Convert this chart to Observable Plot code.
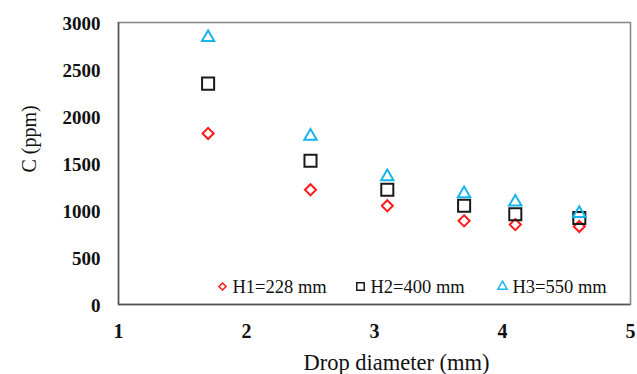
<!DOCTYPE html>
<html>
<head>
<meta charset="utf-8">
<script src="https://cdn.jsdelivr.net/npm/d3@7"></script>
<script src="https://cdn.jsdelivr.net/npm/@observablehq/plot@0.6"></script>
<style>
  html, body { margin: 0; padding: 0; background: #fff; }
  #chart svg { display: block; }
</style>
</head>
<body>
<div id="chart"></div>
<script>
const diameters = [1.7, 2.5, 3.1, 3.7, 4.1, 4.6];
const h1Values = [1820, 1220, 1050, 890, 850, 830];
const h2Values = [2350, 1530, 1220, 1050, 960, 920];
const h3Values = [2840, 1790, 1360, 1180, 1090, 970];
const seriesNames = ["H1=228 mm", "H2=400 mm", "H3=550 mm"];
const xTicks = [1, 2, 3, 4, 5];
const yTicks = [0, 500, 1000, 1500, 2000, 2500, 3000];
const xTitle = "Drop diameter (mm)";
const yTitle = "C (ppm)";

const seriesStyle = [
  {symbol: "diamond2", stroke: "#ff1a1a", r: 5, lr: 3.2, dx: 104, tdx: 114},
  {symbol: "square", stroke: "#1a1a1a", r: 6.8, lr: 4.2, dx: 242, tdx: 252},
  {symbol: "triangle", stroke: "#18b4ee", r: 4.6, lr: 3.4, dx: 384, tdx: 394}
];
const allValues = [h1Values, h2Values, h3Values];
const data = allValues.flatMap((vals, i) =>
  vals.map((v, j) => ({x: diameters[j], y: v, series: i}))
);

const marks = [
  Plot.frame({stroke: "#8a8a8a", strokeWidth: 1.6}),
  Plot.ruleX([1], {stroke: "#555", strokeWidth: 1.5}),
  Plot.ruleY([0], {stroke: "#555", strokeWidth: 1.5}),
  Plot.axisX({ticks: xTicks, tickFormat: d => String(d), tickSize: 0, tickPadding: 19, fontSize: 20, fontWeight: "bold", fill: "#111", label: null}),
  Plot.axisY({ticks: yTicks, tickFormat: d => String(d), tickSize: 0, tickPadding: 18, fontSize: 19, fontWeight: "bold", fill: "#111", dy: 1.5, label: null}),
  Plot.text([xTitle], {frameAnchor: "bottom", text: d => d, dx: 22, dy: 58, fontSize: 22.5, fill: "#111", lineAnchor: "middle"}),
  Plot.text([yTitle], {frameAnchor: "left", text: d => d, dx: -89, dy: 9, rotate: -90, fontSize: 20, fill: "#111", lineAnchor: "middle"})
];

seriesStyle.forEach((s, i) => {
  marks.push(Plot.dot(data.filter(d => d.series === i), {
    x: "x", y: "y", symbol: () => s.symbol, r: s.r, stroke: s.stroke, strokeWidth: 2, fill: "none"
  }));
});
seriesStyle.forEach((s, i) => {
  marks.push(Plot.dot([seriesNames[i]], {
    frameAnchor: "bottom-left", dx: s.dx, dy: -18, symbol: () => s.symbol, r: s.lr, stroke: s.stroke, strokeWidth: 1.5, fill: "none"
  }));
  marks.push(Plot.text([seriesNames[i]], {
    frameAnchor: "bottom-left", dx: s.tdx, dy: -17, text: d => d, textAnchor: "start", lineAnchor: "middle", fontSize: 18.5, fill: "#111"
  }));
});

const chart = Plot.plot({
  width: 637,
  height: 374,
  marginLeft: 118,
  marginRight: 7,
  marginTop: 22,
  marginBottom: 70,
  style: {fontFamily: "'Liberation Serif', 'Times New Roman', serif", background: "#fff", overflow: "visible"},
  x: {domain: [1, 5], axis: null},
  y: {domain: [0, 3000], axis: null},
  symbol: {type: "identity"},
  marks
});
document.getElementById("chart").appendChild(chart);
</script>
</body>
</html>
